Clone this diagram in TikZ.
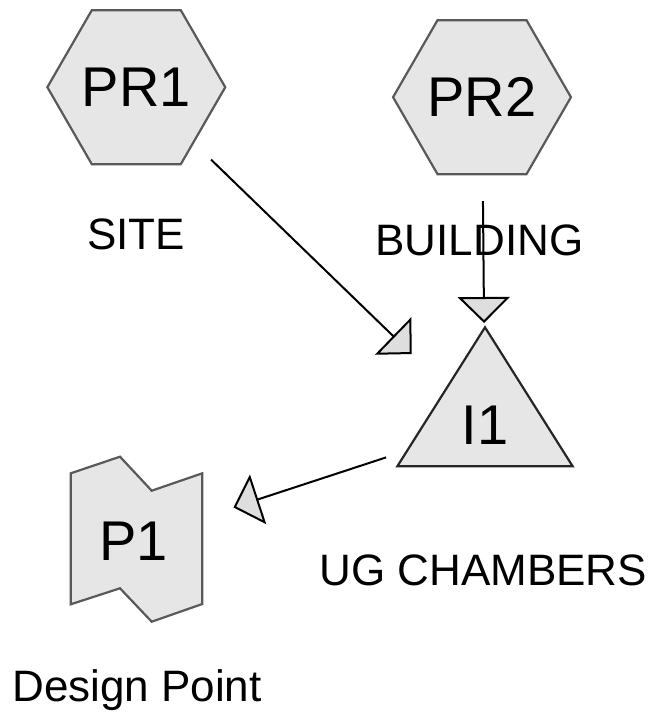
\documentclass[tikz,border=0pt]{standalone}
\usepackage{fontspec}
\setmainfont{Liberation Sans}
\usetikzlibrary{shapes.geometric,arrows.meta}
\definecolor{shapefill}{HTML}{E6E6E6}
\definecolor{shapeline}{HTML}{595959}
\definecolor{tipfill}{HTML}{DEDEDE}
\begin{document}
\begin{tikzpicture}[x=1pt, y=-1pt,
    every node/.style={font=\fontsize{56}{60}\selectfont, inner sep=0pt},
    hexa/.style={regular polygon, regular polygon sides=6, minimum size=175.4pt,
      draw=shapeline, fill=shapefill, line width=2.2pt},
    tria/.style={isosceles triangle, isosceles triangle stretches, shape border rotate=90,
      minimum width=175.4pt, minimum height=139pt, draw=black!85, fill=shapefill, line width=2.2pt},
    caption/.style={font=\fontsize{44}{48}\selectfont, anchor=base},
    every edge/.style={draw, line width=2pt, shorten <=104pt, shorten >=102pt,
      -{Triangle[length=26pt, width=52pt, fill=tipfill]}}]

  \useasboundingbox (0,0) rectangle (657,714);

  % Knoten
  \coordinate (xpr1) at (136.3, 87.2);
  \coordinate (xpr2) at (482, 97.2);
  \coordinate (xi1) at (485, 425);
  \coordinate (xp1) at (136.5, 539.2);
  \node[hexa] (npr1) at (xpr1) {PR1};
  \node[hexa] (npr2) at (xpr2) {PR2};
  \node[tria] (ni1) at (xi1) {I1};
  \filldraw[draw=shapeline, fill=shapefill, line width=2.2pt]
    (70.7,473.3) -- (120,456.7) -- (151.7,490.7) -- (202.3,473.3) --
    (202.3,604) -- (151.7,621.7) -- (120,588.3) -- (70.7,604.3) -- cycle;
  \node (np1) at (133.5, 541) {P1};

  % Beschriftungen
  \node[caption] (lsite) at (136, 249) {SITE};
  \node[caption] (lbuilding) at (479.5, 255.7) {BUILDING};
  \node[caption] (lug) at (483.3, 585.7) {UG CHAMBERS};
  \node[caption] (ldesign) at (137, 701.7) {Design Point};

  % Pfeile
  \draw (npr1.center) edge (ni1.center);
  \draw (npr2.center) edge (ni1.center);
  \draw (ni1.center) edge (xp1);

\end{tikzpicture}
\end{document}
